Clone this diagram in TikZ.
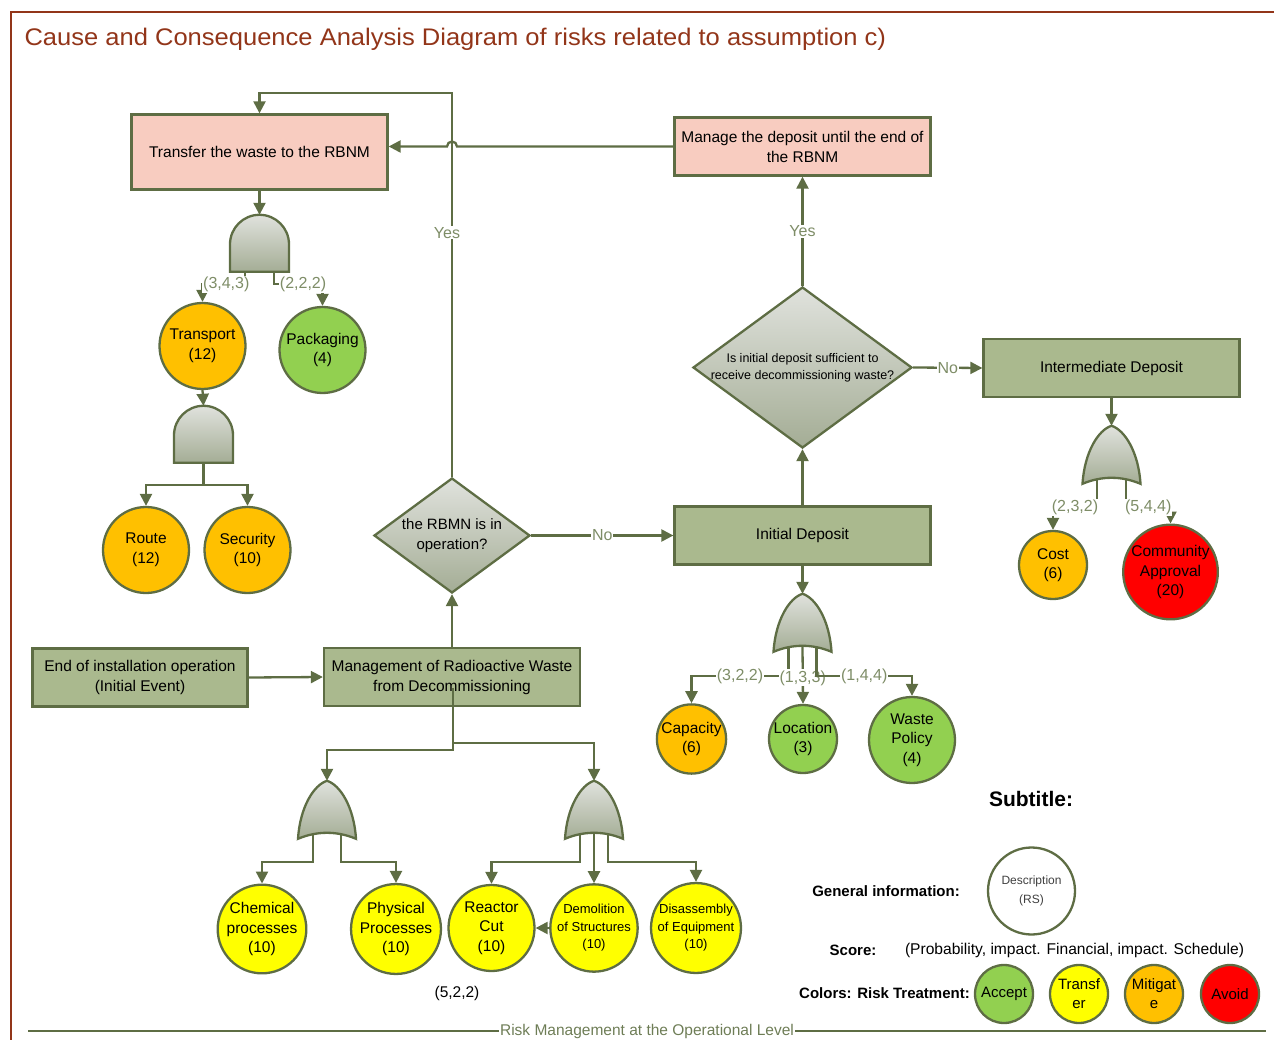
\documentclass[tikz,border=0pt]{standalone}
\usepackage{fontspec}
\setmainfont{Liberation Sans}
\usetikzlibrary{shapes.geometric,arrows.meta,calc}

\definecolor{linegreen}{HTML}{5E6D44}
\definecolor{boxgreen}{HTML}{AAB98E}
\definecolor{pinkfill}{HTML}{F8CCC0}
\definecolor{gatetop}{HTML}{E0E2DD}
\definecolor{gatebottom}{HTML}{A4AD95}
\definecolor{riskorange}{HTML}{FFC000}
\definecolor{riskgreen}{HTML}{92D050}
\definecolor{riskred}{HTML}{FF0000}
\definecolor{riskyellow}{HTML}{FFFF00}
\definecolor{lblgreen}{HTML}{7E8D67}
\definecolor{titlered}{HTML}{923519}
\definecolor{footgreen}{HTML}{6E7D56}

\newcommand\fsz[2]{\fontsize{#1}{#2}\selectfont}

\tikzset{
  x=1pt, y=1pt,
  plain/.style={draw=linegreen, line width=2.3pt},
  conn/.style={plain, -{Triangle[length=12pt,width=12pt]}},
  lbl/.style={fill=white, text=lblgreen, font=\fsz{16}{19}, inner sep=1pt},
  stepbox/.style={draw=linegreen, line width=2.3pt, minimum width=256pt,
    minimum height=58pt, align=center, font=\fsz{15.5}{20}, inner sep=2pt},
  greenbox/.style={stepbox, fill=boxgreen},
  pinkbox/.style={stepbox, fill=pinkfill},
  decision/.style={diamond, draw=linegreen, line width=2.3pt, top color=gatetop,
    bottom color=gatebottom, inner sep=0pt},
  gatestyle/.style={draw=linegreen, line width=2.3pt, top color=gatetop,
    bottom color=gatebottom},
  gatebox/.style={inner sep=0pt, minimum width=58pt},
  risk/.style={circle, draw=linegreen, line width=2.3pt, inner sep=0pt,
    minimum size=#1, align=center, font=\fsz{15.5}{19.5}},
  risk/.default=86pt,
  legendtxt/.style={font=\bfseries\fsz{15}{18}},
}

% gate outlines, drawn at the top point of a gate node
\newcommand\andshape[1]{%
  \begin{scope}[shift={(#1.north)}]
    \path[gatestyle] (-29.5,-57) -- (-29.5,-29.5)
      arc[start angle=180, end angle=0, radius=29.5] -- (29.5,-57) -- cycle;
  \end{scope}}
\newcommand\orshape[1]{%
  \begin{scope}[shift={(#1.north)}]
    \path[gatestyle] (-29,-58) .. controls (-27,-26) and (-13,-4) .. (0,0)
      .. controls (13,-4) and (27,-26) .. (29,-58)
      .. controls (10,-50) and (-10,-50) .. (-29,-58) -- cycle;
  \end{scope}}

\begin{document}
\begin{tikzpicture}
\useasboundingbox (0,0) rectangle (1274,-1040);

% page frame and title
\draw[draw=titlered, line width=2.5pt] (11,-1040) -- (11,-12) -- (1274,-12);
\node[anchor=west, text=titlered, font=\fsz{24}{28}] (title) at (21,-39)
  {\scalebox{1.064}[1]{Cause and Consequence Analysis Diagram of risks related to assumption c)}};

% process boxes
\node[pinkbox, minimum height=75pt] (transfer) at (259.5,-152) {Transfer the waste to the RBNM};
\node[pinkbox] (manage) at (802.5,-146.5) {Manage the deposit until the end of\\the RBNM};
\node[greenbox] (initial) at (802.5,-535.5) {Initial Deposit};
\node[greenbox] (inter) at (1111.5,-368) {Intermediate Deposit};
\node[greenbox, minimum width=215pt] (endop) at (140,-677.5) {End of installation operation\\(Initial Event)};
\node[greenbox] (mgmt) at (452,-677) {Management of Radioactive Waste\\from Decommissioning};

% decisions
\node[decision, minimum width=156pt, minimum height=115pt,
  label={[align=center, font=\fsz{15}{20}]center:the RBMN is in\\operation?}] (d1) at (452,-535.5) {};
\node[decision, minimum width=219pt, minimum height=161pt,
  label={[align=center, font=\fsz{12.5}{17}]center:Is initial deposit sufficient to\\receive decommissioning waste?}] (d2) at (802.5,-367.5) {};

% gate nodes (outlines drawn further down)
\node[gatebox, minimum height=57pt, minimum width=59pt] (g1) at (259.5,-243.5) {};
\node[gatebox, minimum height=57pt, minimum width=59pt] (g2) at (203.5,-434.5) {};
\node[gatebox, minimum height=52pt] (g3) at (1111.5,-452) {};
\node[gatebox, minimum height=52pt] (g4) at (802.5,-620) {};
\node[gatebox, minimum height=52pt] (g5) at (327,-807) {};
\node[gatebox, minimum height=52pt] (g6) at (594,-807) {};

% risks
\node[risk, fill=riskorange] (transport) at (202.5,-346) {Transport\\(12)};
\node[risk, fill=riskgreen] (packaging) at (322.5,-350) {Packaging\\(4)};
\node[risk, fill=riskorange] (route) at (146,-550) {Route\\(12)};
\node[risk, fill=riskorange] (security) at (247.5,-550) {Security\\(10)};
\node[risk=69pt, fill=riskorange] (capacity) at (691.5,-739) {Capacity\\(6)};
\node[risk=68pt, fill=riskgreen] (location) at (803,-739) {Location\\(3)};
\node[risk, fill=riskgreen] (waste) at (912,-740) {Waste\\Policy\\(4)};
\node[risk=68pt, fill=riskorange] (cost) at (1053,-565) {Cost\\(6)};
\node[risk=87pt, fill=riskred] (community) at (1170.5,-572) {Community\\Approval\\(20)};
\node[risk, fill=riskyellow] (chemical) at (262,-929) {Chemical\\processes\\(10)};
\node[risk, fill=riskyellow] (physical) at (396,-929) {Physical\\Processes\\(10)};
\node[risk, fill=riskyellow] (reactor) at (491.5,-928) {Reactor\\Cut\\(10)};
\node[risk, fill=riskyellow, font=\fsz{13}{17.5}] (demolition) at (594,-928) {Demolition\\of Structures\\(10)};
\node[risk, fill=riskyellow, font=\fsz{13}{17.5}] (disassembly) at (696,-928) {Disassembly\\of Equipment\\(10)};
\node[font=\fsz{15.5}{18}] (score522) at (457,-993) {(5,2,2)};

% flow connectors
\draw[conn] (transfer.south) -- (g1.north);
\draw[conn] ($(g1.south)+(-14.5,0)$) -- ++(0,-12) -| node[lbl, pos=0.22] {(3,4,3)} (transport.north);
\draw[conn] ($(g1.south)+(14.5,0)$) -- ++(0,-12) -| node[lbl, pos=0.3] {(2,2,2)} (packaging.north);
\draw[conn] (transport.south) -- (g2.north);
\draw[conn] (g2.south) -- ++(0,-22) -| (route.north);
\draw[conn] (g2.south) -- ++(0,-22) -| (security.north);

\draw[conn] (mgmt.north) -- (d1.south);
\draw[conn] (d1.north) -- node[lbl, pos=0.636, xshift=-5pt] {Yes} (452,-93) -| (transfer.north);
\draw[conn] (d1.east) -- node[lbl] {No} (initial.west);
\draw[conn] (initial.north) -- (d2.south);
\draw[conn] (d2.north) -- node[lbl] {Yes} (manage.south);
\draw[conn] (d2.east) -- node[lbl] {No} (inter.west);
\draw[conn] (manage.west) -- (457,-146.5) arc[start angle=0, end angle=180, radius=5]
  -- (transfer.east |- manage.west);

\draw[conn] (inter.south) -- (g3.north);
\draw[conn] ($(g3.south)+(-14.5,0)$) -- ++(0,-29) -| node[lbl, pos=0.25] {(2,3,2)} (cost.north);
\draw[conn] ($(g3.south)+(14.5,0)$) -- ++(0,-29) -| node[lbl, pos=0.25] {(5,4,4)} (community.north);

\draw[conn] (initial.south) -- (g4.north);
\draw[conn] ($(g4.south)+(-14,0)$) -- ++(0,-30) -| node[lbl, pos=0.25] {(3,2,2)} (capacity.north);
\draw[conn] (g4.south) -- node[lbl, pos=0.55] {(1,3,3)} (location.north);
\draw[conn] ($(g4.south)+(14,0)$) -- ++(0,-30) -| node[lbl, pos=0.25] {(1,4,4)} (waste.north);

\draw[conn] (endop.east) -- (mgmt.west);
\coordinate (tap) at (453,-688);
\draw[conn] (tap) -- (453,-750) -| (g5.north);
\draw[conn] (tap) -- (453,-743) -| (g6.north);
\draw[conn] ($(g5.south)+(-14,0)$) -- ++(0,-29) -| (chemical.north);
\draw[conn] ($(g5.south)+(14,0)$) -- ++(0,-29) -| (physical.north);
\draw[conn] ($(g6.south)+(-14,0)$) -- ++(0,-29) -| (reactor.north);
\draw[conn] (g6.south) -- (demolition.north);
\draw[conn] ($(g6.south)+(14,0)$) -- ++(0,-29) -| (disassembly.north);
\draw[conn] (demolition.west) -- (reactor.east);

% gate outlines over the leg stubs
\andshape{g1}
\andshape{g2}
\orshape{g3}
\orshape{g4}
\orshape{g5}
\orshape{g6}

% legend
\node[font=\bfseries\fsz{21}{24}] (subtitle) at (1031,-799) {Subtitle:};
\node[legendtxt] (geninfo) at (886,-891) {General information:};
\node[risk=87pt, fill=white, text=black!75, font=\fsz{12}{19}] (desc) at (1031.5,-891) {Description\\(RS)};
\node[legendtxt] (scorelbl) at (853,-950) {Score:};
\node[font=\fsz{15.6}{18}] (scoretxt) at (1074.5,-950) {(Probability, impact. Financial, impact. Schedule)};
\node[legendtxt] (colorslbl) at (884.5,-993) {Colors: Risk Treatment:};
\node[risk=58pt, fill=riskgreen, font=\fsz{15}{19}] (accept) at (1004,-994) {Accept};
\node[risk=58pt, fill=riskyellow, font=\fsz{15}{19}] (transferc) at (1079,-994) {Transf\\er};
\node[risk=58pt, fill=riskorange, font=\fsz{15}{19}] (mitigate) at (1154,-994) {Mitigat\\e};
\node[risk=58pt, fill=riskred, font=\fsz{15}{19}] (avoid) at (1230,-994) {Avoid};

% footer rule
\node[text=footgreen, font=\fsz{15.5}{18}, inner sep=1pt] (footer) at (647,-1031)
  {Risk Management at the Operational Level};
\draw[plain] (28,-1031) -- (footer.west);
\draw[plain] (footer.east) -- (1266,-1031);
\end{tikzpicture}
\end{document}
